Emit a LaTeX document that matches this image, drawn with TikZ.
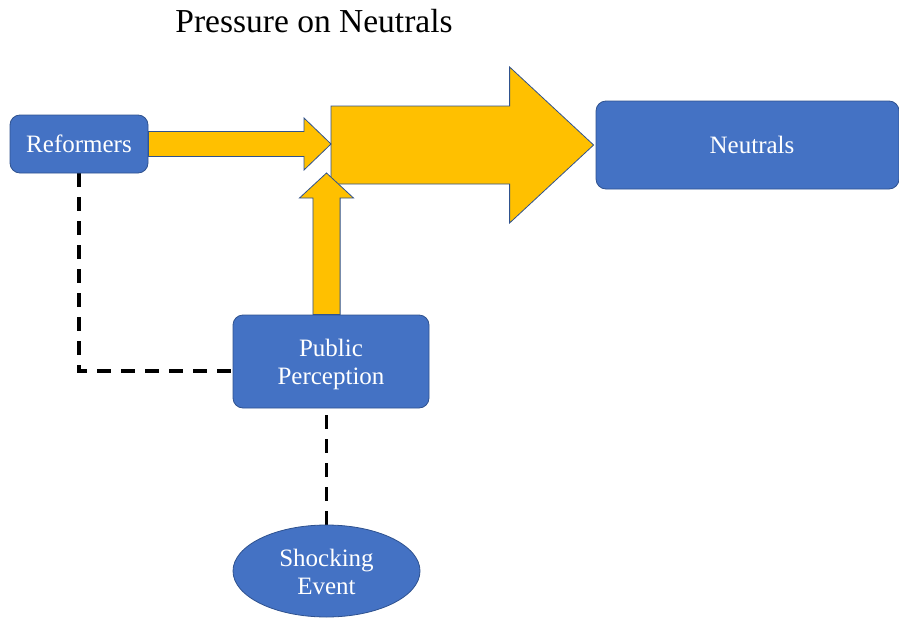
\documentclass[tikz,border=0pt]{standalone}
\usepackage{fontspec}
\setmainfont{Liberation Serif}
\usetikzlibrary{calc,shapes.geometric,backgrounds}

\definecolor{boxblue}{HTML}{4472C4}
\definecolor{edgeblue}{HTML}{2F528F}
\definecolor{flowgold}{HTML}{FFC000}

% Block arrow: #1 tail, #2 tip, #3 half shaft width, #4 head length, #5 half head width
\newcommand{\blockarrow}[5]{%
  \coordinate (ba-h) at ($(#2)!#4!(#1)$);
  \draw[flow] ($(#1)!#3!90:(#2)$) -- ($(ba-h)!#3!-90:(#1)$) -- ($(ba-h)!#5!-90:(#1)$)
    -- (#2) -- ($(ba-h)!#5!90:(#1)$) -- ($(ba-h)!#3!90:(#1)$) -- ($(#1)!#3!-90:(#2)$) -- cycle;}

\tikzset{
  box/.style={draw=edgeblue, line width=0.8pt, fill=boxblue, rounded corners=10pt,
    text=white, align=center, inner sep=0pt, font=\fontsize{25}{28}\selectfont},
  event/.style={box, ellipse, rounded corners=0pt},
  flow/.style={draw=edgeblue, line width=0.8pt, fill=flowgold, line join=miter},
  link/.style={draw=black, line width=3.5pt, dash pattern=on 14pt off 10pt},
}

\begin{document}
\begin{tikzpicture}[x=1pt, y=-1pt]
\useasboundingbox (0,0) rectangle (899,618);

\node[anchor=base, font=\fontsize{33.5}{40}\selectfont] (title) at (314,33) {Pressure on Neutrals};

\node[box, minimum width=138pt, minimum height=58pt] (ref) at (79,144) {Reformers};
\node[box, minimum width=303pt, minimum height=88pt] (neu) at (747.5,145) {\hspace*{9pt}Neutrals};
\node[box, minimum width=196pt, minimum height=93pt] (pp) at (331,361.5) {\rule{0pt}{23pt}Public\\Perception};
\node[event, minimum width=187pt, minimum height=92pt] (se) at (326.5,571) {\rule{0pt}{20pt}Shocking\\Event};

\coordinate (hub) at (331,145);
\coordinate (up) at (326.5,173);

\begin{pgfonlayer}{background}
  % joint pressure towards the neutrals
  \coordinate (neutip) at ([xshift=-2pt]neu.west);
  \blockarrow{hub}{neutip}{39pt}{84pt}{78pt}
  % reformers push in from the left
  \coordinate (reftip) at (ref.east -| hub);
  \blockarrow{ref.east}{reftip}{12.5pt}{27pt}{26pt}
  % public perception pushes up from below
  \coordinate (pptail) at (up |- pp.north);
  \blockarrow{pptail}{up}{13.6pt}{25pt}{27pt}
  % dashed influence links
  \draw[link] (ref.south) |- ([yshift=-9.5pt]pp.west);
  \draw[link] (se.north) -- (se.north |- pp.south);
\end{pgfonlayer}
\end{tikzpicture}
\end{document}
